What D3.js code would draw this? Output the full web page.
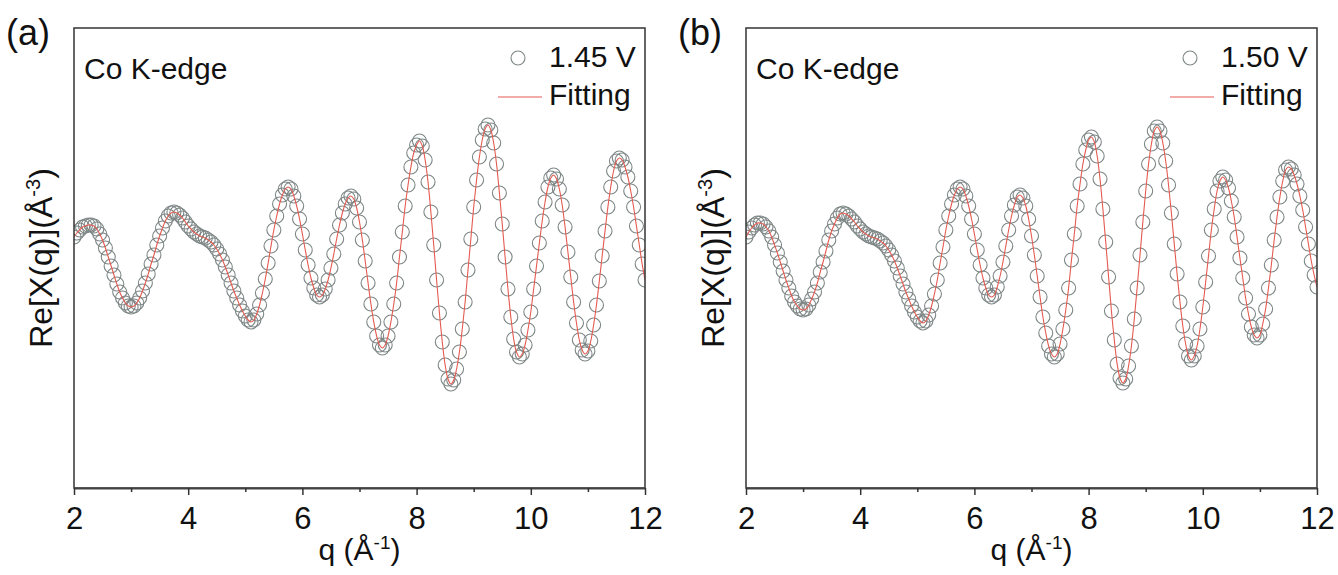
<!DOCTYPE html>
<html>
<head>
<meta charset="utf-8">
<script src="https://cdnjs.cloudflare.com/ajax/libs/d3/7.8.5/d3.min.js"></script>
<style>
  body { margin: 0; background: #fff; }
  text { font-family: Arial, 'Liberation Sans', sans-serif; fill: #111; }
</style>
</head>
<body>
<div class="chart"></div>
<script>
// Co K-edge EXAFS, Re[X(q)] vs q, two potentials

// q grid of the data (A^-1)
var qStart = 2
var qStep = 0.05
var xTicks = [2, 4, 6, 8, 10, 12]
var xMinorTicks = [3, 5, 7, 9, 11]

// Re[X(q)], one value per q step (arb. units)
var chi145 = [
  0.23, 0.27, 0.30, 0.33, 0.34, 0.35, 0.35,
  0.34, 0.31, 0.26, 0.20, 0.12, 0.03, -0.06, -0.15, -0.24, -0.32, -0.38, -0.43, -0.46, -0.47,
  -0.46, -0.43, -0.38, -0.31, -0.23, -0.14, -0.04, 0.05, 0.15, 0.24, 0.32, 0.39, 0.44, 0.47, 0.48,
  0.47, 0.45, 0.42, 0.38, 0.34, 0.31, 0.28, 0.26, 0.24, 0.23, 0.22, 0.20, 0.18, 0.15, 0.11,
  0.06, 0.00, -0.07, -0.15, -0.23, -0.31, -0.38, -0.45, -0.51, -0.56, -0.60, -0.62,
  -0.60, -0.54, -0.45, -0.33, -0.19, -0.03, 0.14, 0.30, 0.44, 0.56, 0.65, 0.71, 0.73,
  0.71, 0.64, 0.54, 0.41, 0.26, 0.10, -0.05, -0.18, -0.28, -0.35, -0.37,
  -0.35, -0.29, -0.20, -0.08, 0.06, 0.21, 0.35, 0.47, 0.56, 0.62, 0.64,
  0.61, 0.52, 0.38, 0.20, -0.01, -0.23, -0.44, -0.62, -0.76, -0.85, -0.88,
  -0.85, -0.76, -0.62, -0.44, -0.23, 0.03, 0.28, 0.54, 0.75, 0.93, 1.07, 1.15, 1.19,
  1.14, 1.00, 0.78, 0.48, 0.15, -0.20, -0.53, -0.82, -1.05, -1.19, -1.24,
  -1.20, -1.09, -0.92, -0.69, -0.42, -0.10, 0.21, 0.53, 0.80, 1.03, 1.20, 1.31, 1.35,
  1.30, 1.17, 0.96, 0.67, 0.36, 0.03, -0.29, -0.57, -0.79, -0.92, -0.97,
  -0.94, -0.85, -0.70, -0.52, -0.29, -0.06, 0.17, 0.39, 0.58, 0.73, 0.82, 0.85,
  0.81, 0.71, 0.55, 0.33, 0.08, -0.17, -0.42, -0.63, -0.80, -0.90, -0.94,
  -0.91, -0.81, -0.65, -0.45, -0.21, 0.04, 0.29, 0.53, 0.73, 0.89, 0.99, 1.02,
  1.00, 0.93, 0.83, 0.69, 0.53, 0.34, 0.15, -0.04, -0.20
]

var chi150 = [
  0.23, 0.28, 0.32, 0.35, 0.37, 0.37,
  0.36, 0.33, 0.29, 0.23, 0.15, 0.07, -0.02, -0.11, -0.20, -0.28, -0.36, -0.42, -0.46, -0.49, -0.50,
  -0.49, -0.45, -0.39, -0.32, -0.23, -0.12, -0.02, 0.09, 0.20, 0.29, 0.36, 0.42, 0.46, 0.47,
  0.46, 0.44, 0.41, 0.38, 0.34, 0.31, 0.28, 0.26, 0.24, 0.23, 0.22, 0.21, 0.19, 0.17, 0.14, 0.10,
  0.05, -0.01, -0.08, -0.16, -0.24, -0.32, -0.39, -0.46, -0.52, -0.57, -0.61, -0.63,
  -0.61, -0.55, -0.46, -0.34, -0.20, -0.03, 0.13, 0.30, 0.44, 0.56, 0.65, 0.71, 0.73,
  0.71, 0.64, 0.54, 0.41, 0.26, 0.10, -0.05, -0.18, -0.28, -0.35, -0.37,
  -0.35, -0.27, -0.16, -0.02, 0.14, 0.30, 0.44, 0.55, 0.63, 0.65,
  0.62, 0.54, 0.41, 0.24, 0.05, -0.16, -0.37, -0.57, -0.73, -0.86, -0.94, -0.97,
  -0.94, -0.84, -0.69, -0.50, -0.28, 0.00, 0.26, 0.54, 0.76, 0.96, 1.10, 1.20, 1.23,
  1.18, 1.04, 0.81, 0.51, 0.18, -0.17, -0.51, -0.80, -1.04, -1.18, -1.23,
  -1.19, -1.06, -0.86, -0.59, -0.28, 0.05, 0.38, 0.69, 0.96, 1.16, 1.29, 1.33,
  1.29, 1.17, 0.99, 0.75, 0.47, 0.16, -0.14, -0.42, -0.66, -0.84, -0.96, -1.00,
  -0.96, -0.86, -0.69, -0.47, -0.22, 0.04, 0.30, 0.51, 0.69, 0.79, 0.83,
  0.80, 0.72, 0.59, 0.43, 0.23, 0.02, -0.18, -0.38, -0.54, -0.67, -0.75, -0.78,
  -0.75, -0.64, -0.49, -0.28, -0.05, 0.20, 0.43, 0.63, 0.79, 0.90, 0.93,
  0.91, 0.85, 0.76, 0.64, 0.50, 0.33, 0.16, -0.01, -0.15, -0.27
]

var panelLabels = ['(a)', '(b)']
var voltages = ['1.45 V', '1.50 V']
var series = [chi145, chi150]

// Set up the canvas
var margin = { top: 28, bottom: 87 }
var width = 571
var height = 575 - margin.top - margin.bottom
var panelLeft = [74, 746]

var svg = d3.select('.chart')
  .append('svg')
  .attr('width', 1338)
  .attr('height', 575)

series.forEach(function (values, p) {
  var data = values.map(function (v, i) {
    return { q: qStart + i * qStep, v: v }
  })

  var g = svg.append('g')
    .attr('transform', 'translate(' + panelLeft[p] + ',' + margin.top + ')')

  var xScale = d3.scaleLinear().domain([2, 12]).range([0, width])
  var yScale = d3.scaleLinear().domain([-2.28, 2.32]).range([height, 0])

  g.append('clipPath')
    .attr('id', 'clip' + p)
    .append('rect')
    .attr('width', width)
    .attr('height', height)

  var plot = g.append('g').attr('clip-path', 'url(#clip' + p + ')')

  // Measured points
  plot.selectAll('circle')
    .data(data)
    .enter()
    .append('circle')
    .attr('cx', d => xScale(d.q))
    .attr('cy', d => yScale(d.v))
    .attr('r', 7)
    .attr('fill', 'none')
    .attr('stroke', '#7e8686')
    .attr('stroke-width', 1.1)

  // Fitting line
  var line = d3.line()
    .x(d => xScale(d.q))
    .y(d => yScale(d.v))
    .curve(d3.curveCatmullRom)

  plot.append('path')
    .datum(data)
    .attr('d', line)
    .attr('fill', 'none')
    .attr('stroke', '#e45a50')
    .attr('stroke-width', 1.1)

  // Frame
  g.append('rect')
    .attr('width', width)
    .attr('height', height)
    .attr('fill', 'none')
    .attr('stroke', '#333')
    .attr('stroke-width', 1.5)

  // X-axis, major and minor ticks
  var xAxis = g.append('g')
    .attr('transform', 'translate(0,' + height + ')')
    .call(d3.axisBottom(xScale).tickValues(xTicks).tickSize(7).tickSizeOuter(0).tickPadding(12))
  xAxis.select('.domain').attr('stroke', '#444').attr('stroke-width', 2)
  xAxis.selectAll('.tick line').attr('stroke', '#333').attr('stroke-width', 1.5)
  xAxis.selectAll('text')
    .style('font-family', 'Arial, Liberation Sans, sans-serif')
    .style('font-size', '31px')
    .attr('fill', '#111')

  var minor = g.append('g')
    .attr('transform', 'translate(0,' + height + ')')
    .call(d3.axisBottom(xScale).tickValues(xMinorTicks).tickSize(4).tickFormat(''))
  minor.select('.domain').remove()
  minor.selectAll('.tick line').attr('stroke', '#333').attr('stroke-width', 1.5)

  // Axis titles
  var xt = g.append('text')
    .attr('x', width / 2)
    .attr('y', height + 72)
    .attr('text-anchor', 'middle')
    .style('font-size', '30px')
  xt.append('tspan').text('q (Å')
  xt.append('tspan').attr('dy', -11).style('font-size', '19px').text('-1')
  xt.append('tspan').attr('dy', 11).text(')')

  var yt = g.append('text')
    .attr('transform', 'translate(-22,' + (height / 2) + ') rotate(-90)')
    .attr('text-anchor', 'middle')
    .style('font-size', '32px')
  yt.append('tspan').text('Re[X(q)](Å')
  yt.append('tspan').attr('dy', -12).style('font-size', '20px').text('-3')
  yt.append('tspan').attr('dy', 12).text(')')

  // Panel label and edge note
  g.append('text')
    .attr('x', -68)
    .attr('y', 17)
    .style('font-size', '36px')
    .text(panelLabels[p])

  g.append('text')
    .attr('x', 10)
    .attr('y', 51)
    .style('font-size', '30px')
    .text('Co K-edge')

  // Legend
  var lg = g.append('g').attr('transform', 'translate(' + (width - 96) + ',0)')
  lg.append('circle')
    .attr('cx', -31)
    .attr('cy', 30)
    .attr('r', 7)
    .attr('fill', 'none')
    .attr('stroke', '#7e8686')
    .attr('stroke-width', 1.1)
  lg.append('text')
    .attr('x', 0)
    .attr('y', 39)
    .style('font-size', '30px')
    .text(voltages[p])
  lg.append('line')
    .attr('x1', -51)
    .attr('x2', -7)
    .attr('y1', 69)
    .attr('y2', 69)
    .attr('stroke', '#e45a50')
    .attr('stroke-width', 1.1)
  lg.append('text')
    .attr('x', 0)
    .attr('y', 77)
    .style('font-size', '30px')
    .text('Fitting')
})
</script>
</body>
</html>
